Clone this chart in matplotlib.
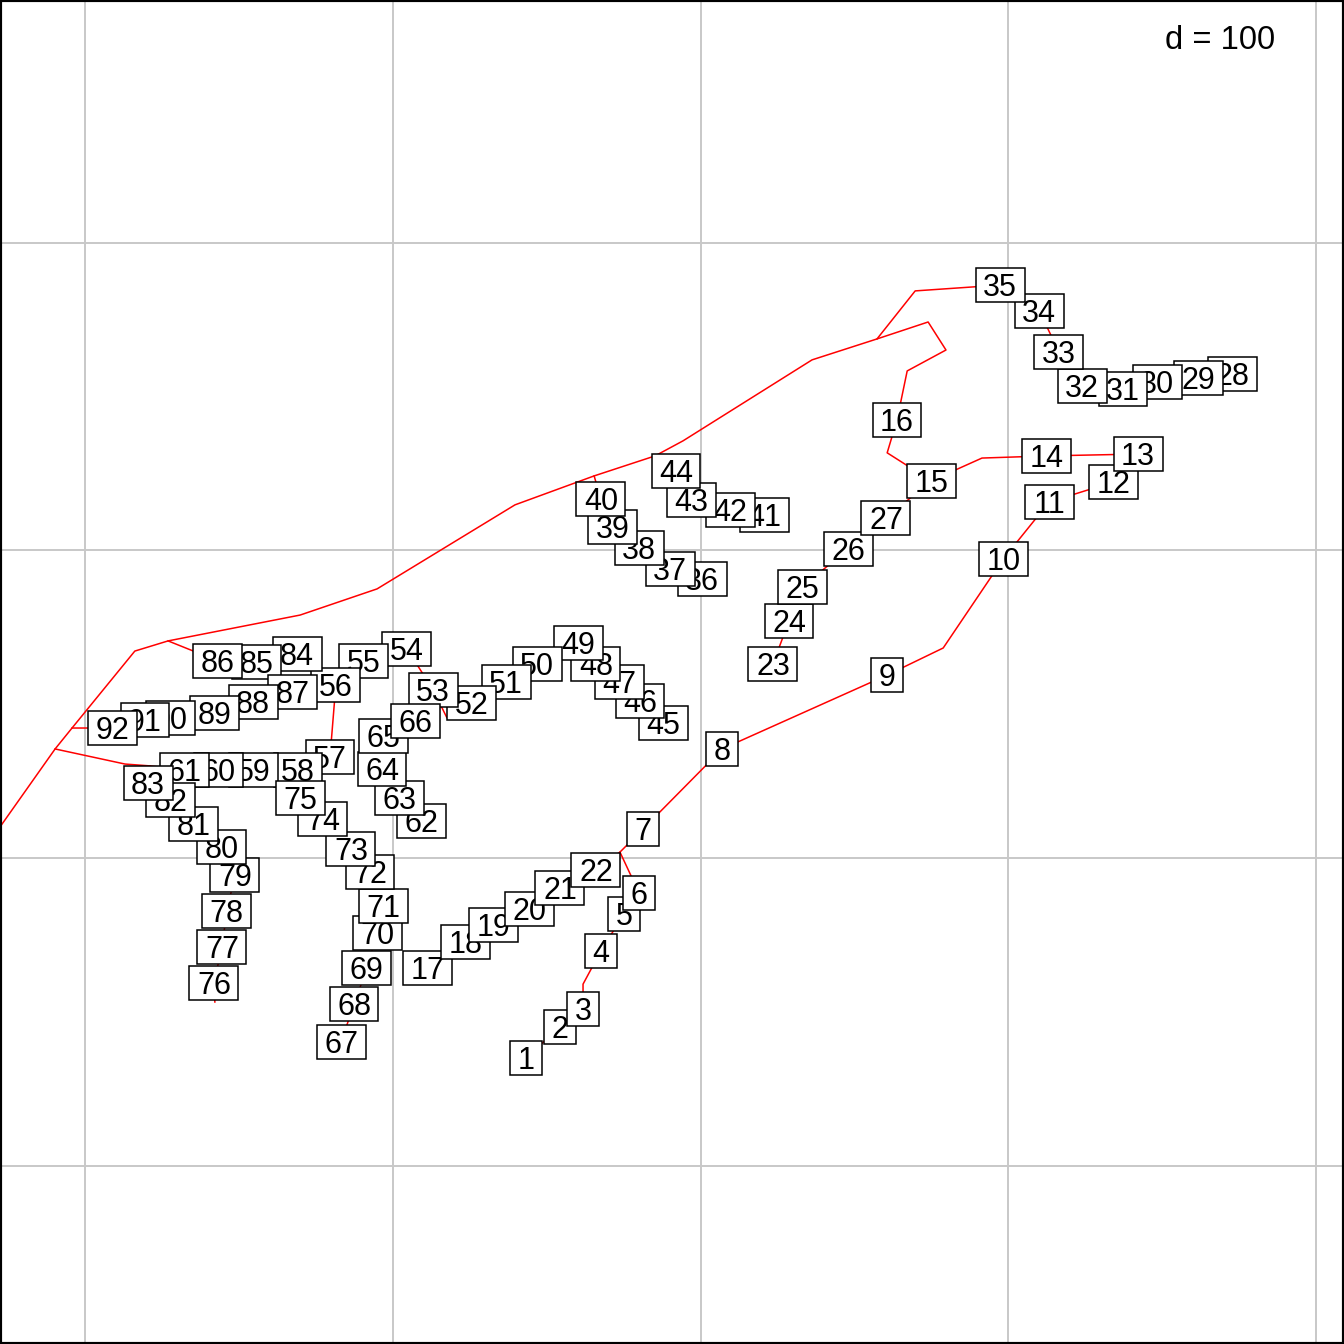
import matplotlib
matplotlib.use("Agg")
import matplotlib.pyplot as plt
from matplotlib.patches import Rectangle

# site coordinates (sites 1..92)
site_x = [143.3, 154.3, 161.8, 167.6, 175.1, 180.0, 181.3, 207.0, 260.6, 298.3,
          313.2, 334.0, 342.1, 312.5, 274.9, 263.8, 111.4, 123.5, 132.6, 144.3,
          154.3, 166.0, 223.5, 228.7, 233.0, 247.9, 260.2, 372.7, 361.6, 348.3,
          337.2, 323.9, 316.4, 310.0, 297.3, 200.5, 190.1, 180.0, 171.5, 167.6,
          220.6, 209.6, 196.9, 192.0, 187.8, 180.3, 173.5, 166.0, 160.2, 146.9,
          136.8, 125.7, 113.1, 104.6, 90.6, 81.5, 79.6, 69.2, 54.9, 43.5,
          32.2, 109.2, 102.3, 96.5, 97.1, 107.5, 83.2, 87.4, 91.6, 94.9,
          97.1, 92.6, 86.4, 77.3, 69.9, 41.9, 44.5, 46.1, 48.7, 44.5,
          35.4, 27.9, 20.5, 68.9, 55.6, 43.2, 67.3, 54.6, 42.2, 27.9,
          19.5, 8.8]
site_y = [35.1, 45.2, 51.0, 69.9, 81.9, 88.7, 109.5, 135.5, 159.5, 197.2,
          215.7, 222.2, 231.3, 230.7, 222.6, 242.4, 64.3, 72.8, 78.3, 83.5,
          90.3, 96.2, 163.1, 177.1, 188.1, 200.5, 210.5, 257.3, 256.0, 254.7,
          252.4, 253.4, 264.5, 277.8, 286.2, 190.7, 194.0, 200.8, 207.6, 216.7,
          211.5, 213.1, 216.4, 225.8, 143.9, 151.1, 157.3, 163.1, 169.9, 163.1,
          157.3, 150.4, 154.7, 168.0, 164.1, 156.3, 132.9, 128.7, 128.7, 128.7,
          128.7, 112.1, 119.6, 129.0, 139.7, 144.6, 40.3, 52.6, 64.3, 75.7,
          84.5, 95.5, 103.0, 112.7, 119.6, 59.5, 71.2, 82.8, 94.5, 103.6,
          111.1, 118.9, 124.4, 166.3, 163.7, 164.1, 154.0, 150.8, 147.2, 145.6,
          144.9, 142.3]

# river network: ints are site numbers, tuples are bends of the line
doubs = [1, 2, 3, (161.8, 59.1), 4, 5, 6, (173.8, 102.0), 7, 8, 9, (278.8, 168.3),
         10, 11, 12, 13, 14, (291.4, 230.0), 15, (260.6, 231.7), 16, (267.1, 258.3),
         (279.7, 265.1), (273.9, 274.2), (257.3, 268.7), (236.2, 261.9), (194.3, 235.6),
         (185.2, 230.7), (165.4, 224.2), (139.7, 214.8), (94.9, 187.5), (69.9, 179.0),
         (27.0, 170.6), (16.2, 167.3), (-4.2, 142.3), (-9.7, 135.5), (-29.2, 107.9)]
riv_17 = [(173.8, 102.0), 22, 21, 20, 19, 18, 17]
riv_23 = [15, 27, 26, 25, 24, 23]
riv_28 = [(257.3, 268.7), (269.7, 284.3), 35, 34, 33, 32, 31, 30, 29, 28]
riv_36 = [(165.4, 224.2), 40, 39, 38, 37, 36]
riv_41 = [(185.2, 230.7), 44, 43, 42, 41]
riv_45 = [(-9.7, 135.5), (13.0, 130.6), (21.1, 130.0), 61, 60, 59, 58, 57, 56, 55, 54,
          53, (117.6, 145.6), 52, 51, 50, 49, 48, 47, 46, 45]
riv_67 = [58, 75, 74, 73, 72, 71, 70, 69, 68, 67]
riv_76 = [(21.1, 130.0), 83, 82, 81, 80, 79, 78, 77, 76, (42.2, 53.3)]
riv_62 = [66, 65, 64, 63, 62]
riv_84 = [(27.0, 170.6), 86, 85, 84]
riv_87 = [(-4.2, 142.3), 92, 91, 90, 89, 88, 87]
rivers = [doubs, riv_17, riv_23, riv_28, riv_36, riv_41, riv_45,
          riv_67, riv_76, riv_62, riv_84, riv_87]

grid_x = [0, 100, 200, 300, 400]
grid_y = [0, 100, 200, 300]

fig = plt.figure(figsize=(13.44, 13.44), dpi=100)
ax = fig.add_axes([0, 0, 1, 1])
ax.set_xlim(-27.6, 409.0)
ax.set_ylim(-57.8, 378.8)
ax.set_xticks([])
ax.set_yticks([])
for s in ax.spines.values():
    s.set_linewidth(3)
    s.set_color("black")

for gx in grid_x:
    ax.axvline(gx, color="#c8c8c8", lw=1.4, zorder=1)
for gy in grid_y:
    ax.axhline(gy, color="#c8c8c8", lw=1.4, zorder=1)

for riv in rivers:
    xs, ys = [], []
    for p in riv:
        if isinstance(p, tuple):
            xs.append(p[0])
            ys.append(p[1])
        else:
            xs.append(site_x[p - 1])
            ys.append(site_y[p - 1])
    ax.plot(xs, ys, color="red", lw=1.1, zorder=2)

h = 11.2
fs = 22
for i in range(len(site_x)):
    lab = str(i + 1)
    w = 10.2 if len(lab) == 1 else 15.9
    ax.add_patch(Rectangle((site_x[i] - w / 2, site_y[i] - h / 2), w, h,
                           facecolor="white", edgecolor="black", lw=1.1, zorder=3 + 2 * i))
    # digits centred on the point: baseline half a cap-height below it
    ax.annotate(lab, (site_x[i], site_y[i]), xytext=(0, -0.36 * fs),
                textcoords="offset points", ha="center", va="baseline",
                fontsize=fs, family="Liberation Sans", zorder=4 + 2 * i)

ax.text(0.949, 0.970, "d = 100", transform=ax.transAxes, ha="right", va="center",
        fontsize=23.5, family="Liberation Sans")

fig.savefig("out.png", dpi=100)
